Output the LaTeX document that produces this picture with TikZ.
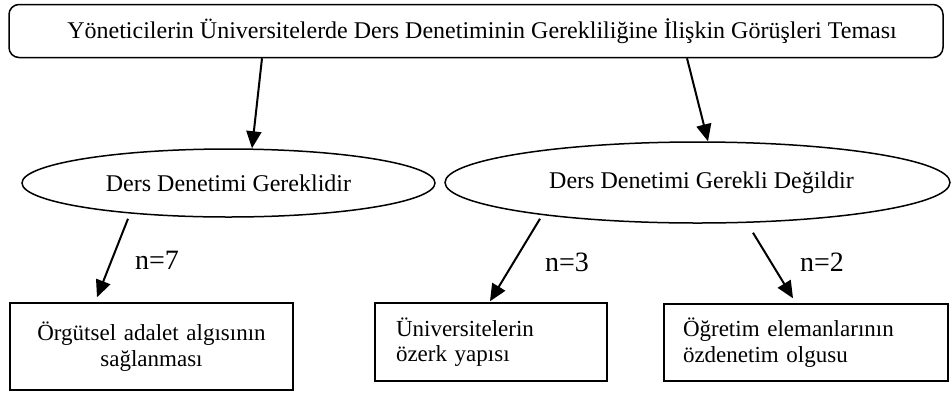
\documentclass[tikz,border=0pt]{standalone}
\usepackage{fontspec}
\setmainfont{Liberation Serif}
\usetikzlibrary{shapes.geometric,arrows.meta,calc}
\begin{document}
\begin{tikzpicture}[x=1pt,y=-1pt,
  titlebox/.style={draw, line width=1.5pt, rounded corners=10pt, minimum width=934pt, minimum height=53pt, inner sep=0pt, font=\fontsize{24}{28}\selectfont},
  oval/.style={draw, ellipse, line width=1.5pt, inner sep=0pt, font=\fontsize{24}{26}\selectfont},
  leafbox/.style={draw, rectangle, line width=1.5pt, font=\fontsize{23}{25.5}\selectfont, inner ysep=0pt},
  arr/.style={line width=2pt, -{Triangle[length=17pt,width=15pt]}},
  nlabel/.style={font=\fontsize{28}{30}\selectfont, inner sep=0pt}
]
\useasboundingbox (0,0) rectangle (951,392);
\node[titlebox] (top) at (476,31) {\hspace*{12pt}Yöneticilerin Üniversitelerde Ders Denetiminin Gerekliliğine İlişkin Görüşleri Teması};
\node[oval, minimum width=413pt, minimum height=68pt] (L) at (228.5,183) {Ders Denetimi Gereklidir};
\node[oval, minimum width=505pt, minimum height=81pt] (R) at (697.5,182.5) {\hspace*{8pt}Ders Denetimi Gerekli Değildir};
\node[leafbox, text width=263pt, inner xsep=10pt, minimum height=87pt, align=center] (B1) at (151.5,346.5) {Örgütsel adalet algısının\\sağlanması};
\node[leafbox, text width=190pt, inner xsep=21pt, minimum height=78pt, align=left] (B2) at (491,342) {Üniversitelerin\\özerk yapısı};
\node[leafbox, text width=246pt, inner xsep=19pt, minimum height=77pt, align=left] (B3) at (806,342.5) {Öğretim elemanlarının\\özdenetim olgusu};
\draw[arr] ([xshift=-214pt]top.south) -- ([xshift=23.5pt]L.north);
\draw[arr] ([xshift=211pt]top.south) -- ([xshift=10.5pt]R.north);
\draw[arr] ([xshift=-100.5pt,yshift=-1pt]L.south) -- ([xshift=-54.5pt,yshift=5pt]B1.north);
\draw[arr] ([xshift=-157.5pt,yshift=5pt]R.south) -- ([xshift=-1pt,yshift=1pt]B2.north);
\draw[arr] ([xshift=55.5pt,yshift=-9pt]R.south) -- ([xshift=-13pt,yshift=5pt]B3.north);
\node[nlabel] (n7) at (157,260) {n=7};
\node[nlabel] (n3) at (567,262) {n=3};
\node[nlabel] (n2) at (822,262) {n=2};
\end{tikzpicture}
\end{document}
